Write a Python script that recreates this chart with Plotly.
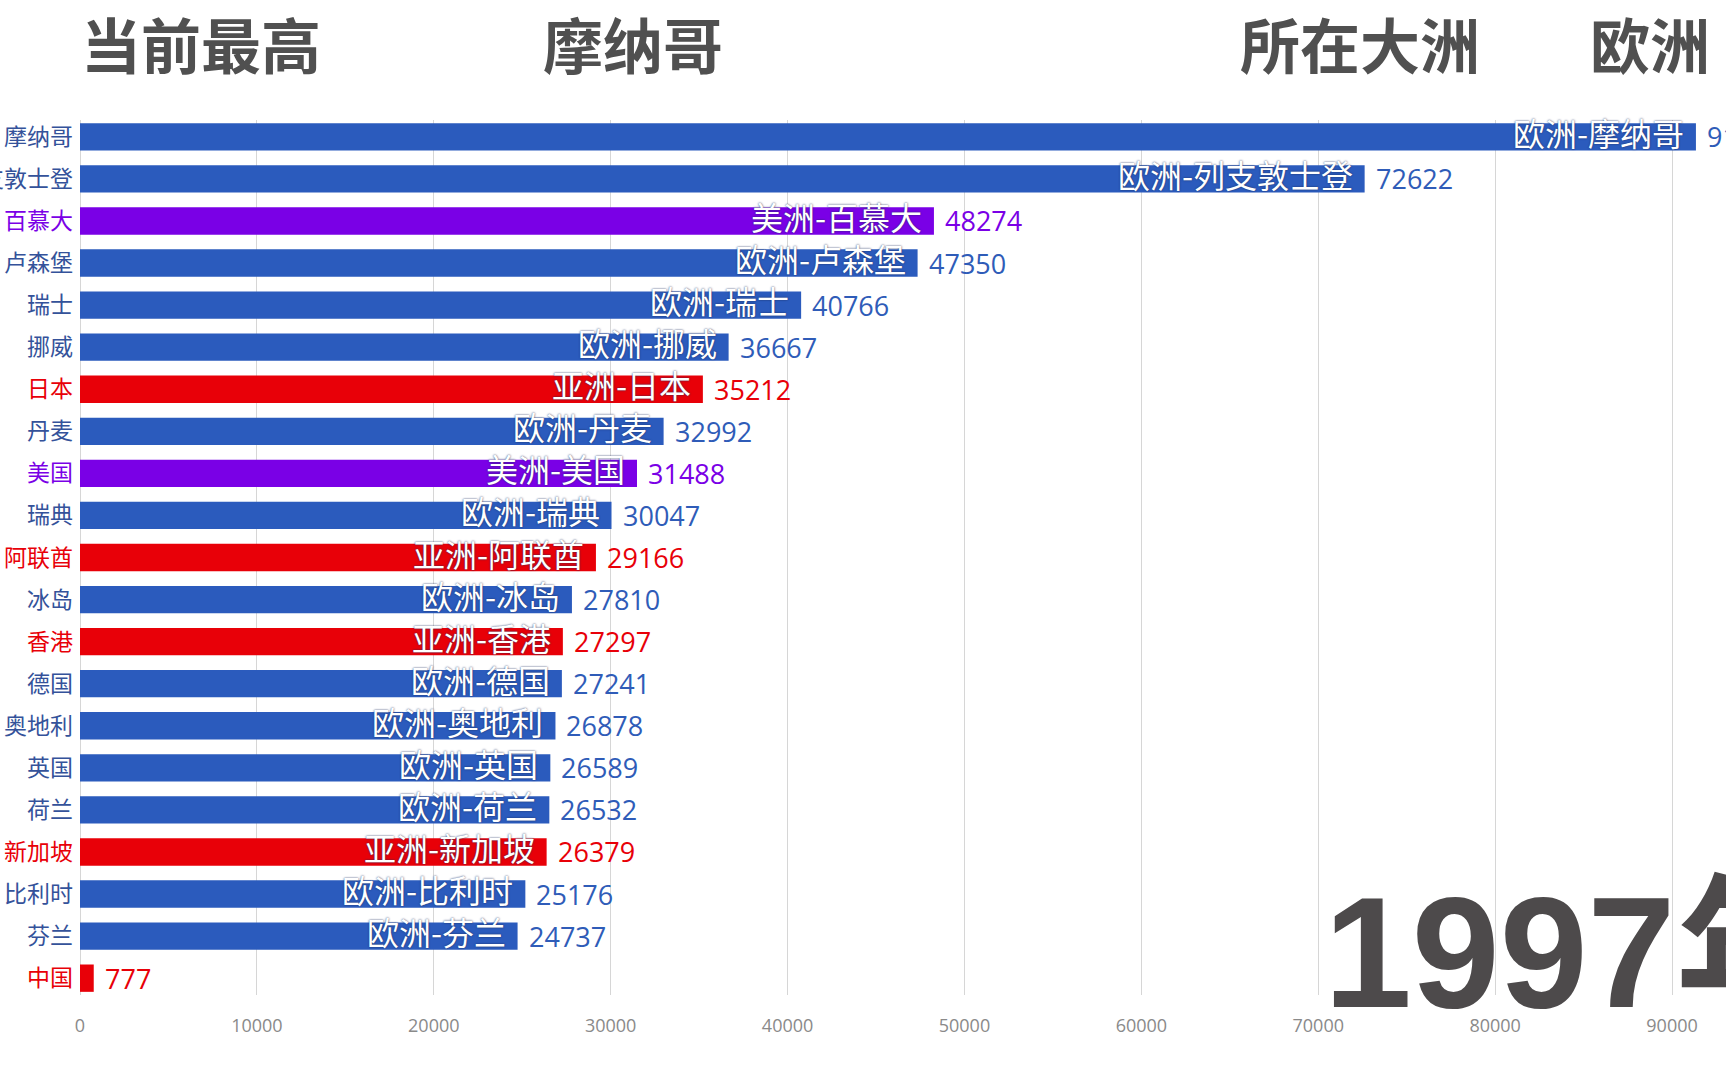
import plotly.graph_objects as go

# ---------------- data ----------------
countries = ["摩纳哥", "列支敦士登", "百慕大", "卢森堡", "瑞士", "挪威", "日本", "丹麦", "美国", "瑞典",
             "阿联酋", "冰岛", "香港", "德国", "奥地利", "英国", "荷兰", "新加坡", "比利时", "芬兰", "中国"]
continents = ["欧洲", "欧洲", "美洲", "欧洲", "欧洲", "欧洲", "亚洲", "欧洲", "美洲", "欧洲",
              "亚洲", "欧洲", "亚洲", "欧洲", "欧洲", "欧洲", "欧洲", "亚洲", "欧洲", "欧洲", "亚洲"]
values = [91350, 72622, 48274, 47350, 40766, 36667, 35212, 32992, 31488, 30047,
          29166, 27810, 27297, 27241, 26878, 26589, 26532, 26379, 25176, 24737, 777]
year_label = "1997年"
x_tick_values = [0, 10000, 20000, 30000, 40000, 50000, 60000, 70000, 80000, 90000]

# ---------------- styles ----------------
bar_colors = {"欧洲": "#2b5bbd", "美洲": "#7a00e6", "亚洲": "#e80008"}
label_colors = {"欧洲": "#34529a", "美洲": "#7a00e6", "亚洲": "#e80008"}
value_colors = {"欧洲": "#2f5cb8", "美洲": "#7a00e6", "亚洲": "#e80008"}
CJK = "Noto Sans CJK SC"

W, H = 1726, 1079
ML, MR, MT, MB = 80, 0, 120, 84

fig = go.Figure()
fig.add_trace(go.Bar(
    x=values, y=countries, orientation="h",
    marker=dict(color=[bar_colors[c] for c in continents], line=dict(width=0)),
    width=0.65, hoverinfo="skip",
))

annotations = []
for c, cont, v in zip(countries, continents, values):
    if v > 5000:
        annotations.append(dict(
            x=v, y=c, xref="x", yref="y", text=f"{cont}-{c}", showarrow=False,
            xanchor="right", yanchor="middle", xshift=-10, yshift=5,
            font=dict(family=CJK, size=32, color="white", shadow="0px 0px 2px #1c2c5c"),
        ))
    annotations.append(dict(
        x=v, y=c, xref="x", yref="y", text=str(v), showarrow=False,
        xanchor="left", yanchor="middle", xshift=9, yshift=0,
        font=dict(family="Open Sans", size=27, color=value_colors[cont]),
    ))

# header: current leader
lead = max(range(len(values)), key=lambda i: values[i])
pw = W - ML - MR
ph = H - MT - MB
def px_x(p):
    return (p - ML) / pw
def px_y(p):
    return (H - MB - p) / ph

title_font = dict(family=CJK, size=60, color="#505050", weight="bold")
for txt, xl in [("当前最高", 79), (countries[lead], 541), ("所在大洲", 1238), (continents[lead], 1588)]:
    annotations.append(dict(
        x=px_x(xl), y=px_y(43), xref="paper", yref="paper", text=txt, showarrow=False,
        xanchor="left", yanchor="middle", font=title_font,
    ))

annotations.append(dict(
    x=px_x(1322), y=px_y(952), xref="paper", yref="paper", text=year_label, showarrow=False,
    xanchor="left", yanchor="middle",
    font=dict(family="Liberation Sans, " + CJK, size=158, color="#4d4a4b", weight="bold"),
))

ticktext = [f'<span style="color:{label_colors[cont]}">{c}</span>' for c, cont in zip(countries, continents)]

fig.update_layout(
    width=W, height=H,
    margin=dict(l=ML, r=MR, t=MT, b=MB, pad=0, autoexpand=False),
    paper_bgcolor="white", plot_bgcolor="white",
    showlegend=False,
    annotations=annotations,
    xaxis=dict(
        range=[0, 93050], tickvals=x_tick_values, ticktext=[str(t) for t in x_tick_values],
        showgrid=True, gridcolor="#d6d6d6", gridwidth=1,
        zeroline=True, zerolinecolor="#d6d6d6", zerolinewidth=1,
        showline=False, ticks="", ticklabelstandoff=18, automargin=False,
        tickfont=dict(family="Open Sans", size=18, color="#8a8a8a"),
        fixedrange=True,
    ),
    yaxis=dict(
        type="category", categoryorder="array", categoryarray=countries,
        range=[len(countries) - 1 + 0.4, -0.4],
        tickvals=countries, ticktext=ticktext,
        showgrid=False, zeroline=False, showline=False, ticks="",
        ticklabelstandoff=6, automargin=False,
        tickfont=dict(family=CJK, size=23),
        fixedrange=True,
    ),
)

fig.write_html("out.html", config={"displayModeBar": False},
               post_script="document.body.style.margin='0';document.body.style.overflow='hidden';")
